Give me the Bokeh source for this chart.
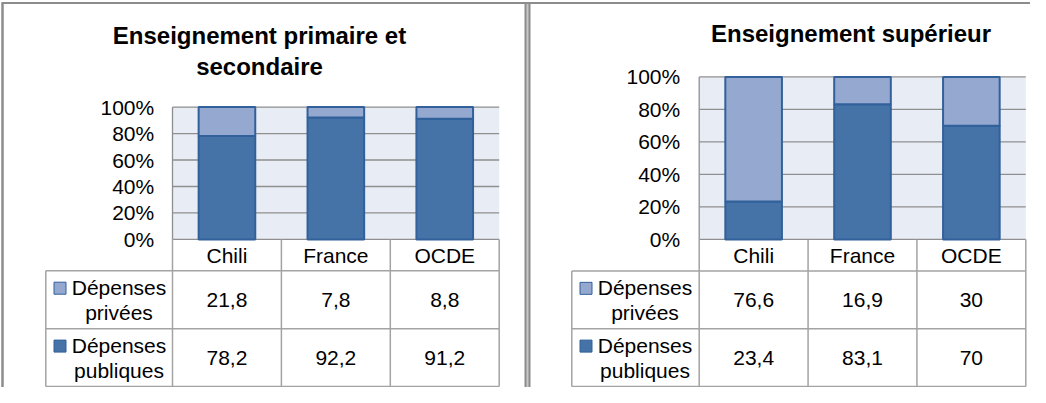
from bokeh.plotting import figure
from bokeh.models import Range1d, ColumnDataSource
from bokeh.core.properties import value
from bokeh.embed import file_html
from bokeh.resources import INLINE

# ---------------- data ----------------
categories = ["Chili", "France", "OCDE"]
series_privees = ["Dépenses", "privées"]
series_publiques = ["Dépenses", "publiques"]
prim_privees = [21.8, 7.8, 8.8]
prim_publiques = [78.2, 92.2, 91.2]
sup_privees = [76.6, 16.9, 30.0]
sup_publiques = [23.4, 83.1, 70.0]
y_ticks = [0, 20, 40, 60, 80, 100]
y_tick_labels = ["0%", "20%", "40%", "60%", "80%", "100%"]
title_left = ["Enseignement primaire et", "secondaire"]
title_right = ["Enseignement supérieur"]

# ---------------- style ----------------
W, H = 1030, 387
FONT = value("Liberation Sans")
FS = "21px"
LIGHT = "#95A9D0"
DARK = "#4572A7"
EDGE = "#31609A"
GRID = "#8F8F8F"
TABLE = "#A3A3A3"
BG = "#E8ECF4"
FRAME = "#8C8C8C"


def fmt(v):
    return f"{v:g}".replace(".", ",")


p = figure(width=W, height=H, x_range=Range1d(0, W), y_range=Range1d(H, 0),
           output_backend="svg", toolbar_location=None, min_border=0,
           x_axis_location=None, y_axis_location=None)
p.grid.visible = False
p.outline_line_color = None
p.background_fill_color = "white"
p.border_fill_color = "white"

panels = [
    dict(name="l", priv=prim_privees, pub=prim_publiques, title=title_left,
         x0=172.0, x1=498.7, yt=106.6, yb=238.9, hdr=270.2, r1=328.2, r2=386.0,
         legL=45.3, tick_right=153.7, cat_y=255.3, leg_x=118.5, sq_x=59.5,
         title_x=259.0, title_y=[34.5, 66.0]),
    dict(name="r", priv=sup_privees, pub=sup_publiques, title=title_right,
         x0=698.7, x1=1025.3, yt=76.4, yb=238.9, hdr=270.5, r1=328.2, r2=386.0,
         legL=571.3, tick_right=679.7, cat_y=255.3, leg_x=644.5, sq_x=585.5,
         title_x=850.5, title_y=[32.7]),
]

xr, yr = {}, {}
for L in panels:
    cw = (L["x1"] - L["x0"]) / 3
    xr["x" + L["name"]] = Range1d(-L["x0"] / cw, (W - L["x0"]) / cw)
    ppu = (L["yb"] - L["yt"]) / 100.0
    yr["y" + L["name"]] = Range1d(-(H - L["yb"]) / ppu, L["yb"] / ppu)
p.extra_x_ranges = xr
p.extra_y_ranges = yr

for L in panels:
    xn, yn = "x" + L["name"], "y" + L["name"]
    n = len(categories)
    centers = [i + 0.5 for i in range(n)]

    # plot area background, grid and axis line
    p.quad(left=0, right=n, bottom=0, top=100, fill_color=BG, line_color=None,
           x_range_name=xn, y_range_name=yn)
    p.segment(x0=[0] * len(y_ticks), x1=[n] * len(y_ticks), y0=y_ticks, y1=y_ticks,
              line_color=GRID, line_width=1.3, x_range_name=xn, y_range_name=yn)
    p.segment(x0=[0], x1=[0], y0=[0], y1=[100], line_color=GRID, line_width=1.3,
              x_range_name=xn, y_range_name=yn)

    # stacked bars
    src = ColumnDataSource(dict(x=centers, pub=L["pub"], priv=L["priv"]))
    p.vbar_stack(["pub", "priv"], x="x", width=0.52, source=src,
                 fill_color=[DARK, LIGHT], line_color=EDGE, line_width=2,
                 x_range_name=xn, y_range_name=yn)

    # y tick labels
    p.text(x=[L["tick_right"]] * len(y_ticks), y=y_ticks, text=y_tick_labels,
           text_align="right", text_baseline="middle", text_font=FONT,
           text_font_size=FS, text_color="black", y_range_name=yn)

    # data table grid
    p.segment(x0=list(range(n + 1)), x1=list(range(n + 1)),
              y0=[L["yb"]] * (n + 1), y1=[L["r2"]] * (n + 1),
              line_color=TABLE, line_width=1.5, x_range_name=xn)
    p.segment(x0=[L["legL"]], x1=[L["legL"]], y0=[L["hdr"]], y1=[L["r2"]],
              line_color=TABLE, line_width=1.5)
    p.segment(x0=[L["legL"]] * 3, x1=[L["x1"]] * 3,
              y0=[L["hdr"], L["r1"], L["r2"]], y1=[L["hdr"], L["r1"], L["r2"]],
              line_color=TABLE, line_width=1.5)

    # table texts
    row_c = [(L["hdr"] + L["r1"]) / 2, (L["r1"] + L["r2"]) / 2]
    p.text(x=centers, y=[L["cat_y"]] * n, text=categories, text_align="center",
           text_baseline="middle", text_font=FONT, text_font_size=FS,
           text_color="black", x_range_name=xn)
    p.text(x=centers, y=[row_c[0]] * n, text=[fmt(v) for v in L["priv"]],
           text_align="center", text_baseline="middle", text_font=FONT,
           text_font_size=FS, text_color="black", x_range_name=xn)
    p.text(x=centers, y=[row_c[1]] * n, text=[fmt(v) for v in L["pub"]],
           text_align="center", text_baseline="middle", text_font=FONT,
           text_font_size=FS, text_color="black", x_range_name=xn)

    # legend keys inside the table
    for rc, words, col in [(row_c[0], series_privees, LIGHT), (row_c[1], series_publiques, DARK)]:
        p.text(x=[L["leg_x"]] * 2, y=[rc - 12.5, rc + 12.5], text=words,
               text_align="center", text_baseline="middle", text_font=FONT,
               text_font_size=FS, text_color="black")
        p.scatter(x=[L["sq_x"]], y=[rc - 11.5], marker="square", size=12,
                  fill_color=col, line_color=EDGE, line_width=1)

    # title
    p.text(x=[L["title_x"]] * len(L["title"]), y=L["title_y"], text=L["title"],
           text_align="center", text_baseline="middle", text_font=FONT,
           text_font_size="24px", text_font_style="bold", text_color="black")

# frames of the two chart objects
p.segment(x0=[1], x1=[W], y0=[2.5], y1=[2.5], line_color=FRAME, line_width=2)
p.segment(x0=[2], x1=[2], y0=[2.5], y1=[H], line_color=FRAME, line_width=2.5)
p.segment(x0=[527], x1=[527], y0=[2.5], y1=[H], line_color=FRAME, line_width=6)
p.segment(x0=[527], x1=[527], y0=[3.5], y1=[H], line_color="#C8C8C8", line_width=2)

open("out.html", "w").write(file_html(p, INLINE))
